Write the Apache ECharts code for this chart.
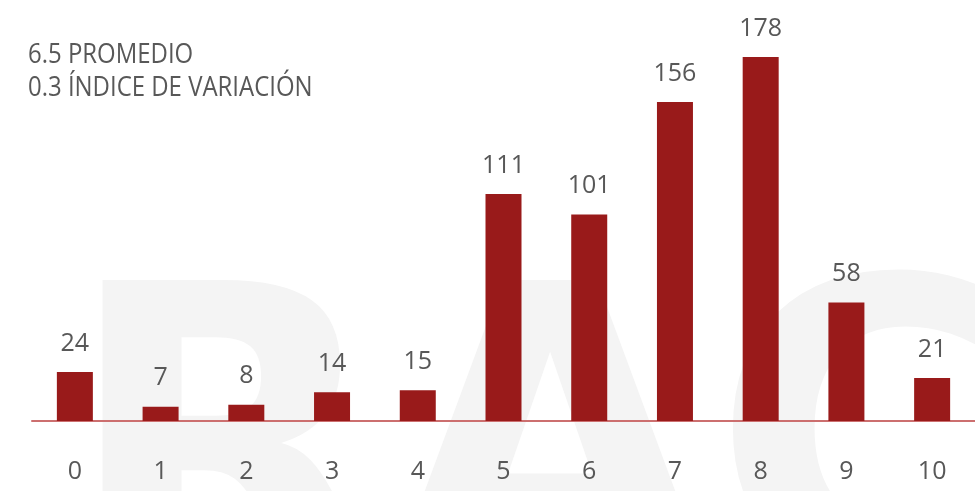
<!DOCTYPE html>
<html>
<head>
<meta charset="utf-8">
<script src="https://cdn.jsdelivr.net/npm/echarts@6/dist/echarts.min.js"></script>
<style>
  html, body { margin: 0; padding: 0; background: #fff; }
  #chart { width: 975px; height: 491px; }
</style>
</head>
<body>
<div id="chart"></div>
<script>
// datos
const categories = ['0', '1', '2', '3', '4', '5', '6', '7', '8', '9', '10'];
const counts = [24, 7, 8, 14, 15, 111, 101, 156, 178, 58, 21];
const notes = ['6.5 PROMEDIO', '0.3 ÍNDICE DE VARIACIÓN'];

const FONT = '"Open Sans", sans-serif';
const RED = '#991a1a';
const GREY = '#585858';

// letras de la marca de agua
const wmStyle = {
  fontFamily: '"DejaVu Sans", sans-serif',
  fontWeight: 'bold',
  fontSize: 420,
  fill: '#f4f4f4'
};

const chart = echarts.init(document.getElementById('chart'));
chart.setOption({
  backgroundColor: '#fff',
  animation: false,
  graphic: [
    { type: 'text', x: 64, y: 267, z: -10, silent: true,
      style: Object.assign({ text: 'R', textAlign: 'left', textVerticalAlign: 'top' }, wmStyle) },
    { type: 'text', x: 550, y: 267, z: -10, silent: true,
      style: Object.assign({ text: 'A', textAlign: 'center', textVerticalAlign: 'top' }, wmStyle) },
    { type: 'text', x: 712, y: 262, z: -10, silent: true,
      style: Object.assign({ text: 'C', textAlign: 'left', textVerticalAlign: 'top' }, wmStyle) },
    {
      type: 'text',
      x: 28,
      y: 39,
      scaleX: 0.855,
      style: {
        text: notes.join('\n'),
        fontFamily: FONT,
        fontSize: 28,
        lineHeight: 33,
        fill: GREY
      }
    }
  ],
  grid: {
    left: 32,
    right: -3,
    top: 12,
    bottom: 70
  },
  xAxis: {
    type: 'category',
    data: categories,
    axisLine: { show: true, lineStyle: { color: '#cc6f6f', width: 2 } },
    axisTick: { show: false },
    axisLabel: {
      color: GREY,
      fontFamily: FONT,
      fontSize: 25,
      margin: 38
    }
  },
  yAxis: {
    type: 'value',
    min: 0,
    max: 200,
    show: false,
    splitLine: { show: false }
  },
  series: [
    {
      type: 'bar',
      data: counts,
      barWidth: 36,
      itemStyle: { color: RED },
      label: {
        show: true,
        position: 'top',
        distance: 16,
        color: GREY,
        fontFamily: FONT,
        fontSize: 25
      }
    }
  ]
});
</script>
</body>
</html>
